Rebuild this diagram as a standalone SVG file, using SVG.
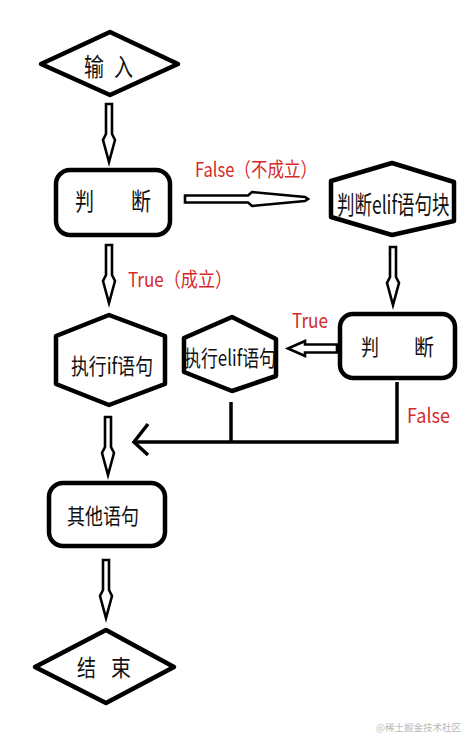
<svg xmlns="http://www.w3.org/2000/svg" width="467" height="739" viewBox="0 0 467 739">
<style>
.shape{fill:#fff;stroke:#000;stroke-width:4.5;stroke-linejoin:round}
.t{font-family:"Noto Sans CJK SC","Noto Sans",sans-serif;fill:#111}
.r{font-family:"Noto Sans CJK SC","Noto Sans",sans-serif;fill:#d42a2a;font-size:20px}
.arr{fill:#fff;stroke:#000;stroke-width:2.6;stroke-linejoin:miter}
.ln{fill:none;stroke:#000;stroke-width:3.5;stroke-linecap:butt;stroke-linejoin:miter}
</style>
<defs>
<path id="va" d="M-3,0 L3,0 L3,30 L6,36 L0,58 L-6,36 L-3,30 Z"/>
</defs>
<rect width="467" height="739" fill="#fff"/>

<g id="connectors">
<use href="#va" class="arr" transform="translate(109,104)"/>
<use href="#va" class="arr" transform="translate(109,245)"/>
<use href="#va" class="arr" transform="translate(108,417)"/>
<use href="#va" class="arr" transform="translate(106,560)"/>
<use href="#va" class="arr" transform="translate(393,247)"/>
<path class="arr" d="M185,195.5 L248,195.5 L252,192 L305,197 L308,199 L305,201 L252,206 L248,202.5 L185,202.5 Z"/>
<path class="arr" stroke-width="3" d="M337,344.5 L305,344.5 L305,341 L288,348.5 L305,356 L305,352.5 L337,352.5 Z"/>
<path class="ln" d="M397,382 L397,442 L134,442"/>
<path class="ln" d="M231,402 L231,442"/>
<path class="ln" d="M148,424 L134,442 L148,455"/>
</g>

<g id="label-false1"><text class="r" x="195" y="177" textLength="122" lengthAdjust="spacingAndGlyphs">False（不成立）</text></g>
<g id="label-true1"><text class="r" x="128" y="287" textLength="104" lengthAdjust="spacingAndGlyphs">True（成立）</text></g>
<g id="label-true2"><text class="r" x="292" y="328" textLength="36" lengthAdjust="spacingAndGlyphs">True</text></g>
<g id="label-false2"><text class="r" x="407" y="423" textLength="43" lengthAdjust="spacingAndGlyphs">False</text></g>

<g id="input">
<polygon class="shape" points="110,32 178,64 110,95 41,64"/>
<text class="t" font-size="25" y="76"><tspan x="84" textLength="20" lengthAdjust="spacingAndGlyphs">输</tspan><tspan x="114" textLength="19" lengthAdjust="spacingAndGlyphs">入</tspan></text>
</g>

<g id="judge1">
<rect class="shape" x="56" y="170" width="114" height="65" rx="14"/>
<text class="t" font-size="24" y="210"><tspan x="75" textLength="19" lengthAdjust="spacingAndGlyphs">判</tspan><tspan x="131" textLength="20" lengthAdjust="spacingAndGlyphs">断</tspan></text>
</g>

<g id="elif-block">
<polygon class="shape" points="392,163 454,182 454,221 392,235 331,217 331,181"/>
<text class="t" font-size="17.5" x="337" y="0" transform="translate(0,214) scale(1,1.4)">判断elif语句块</text>
</g>

<g id="exec-if">
<polygon class="shape" points="109,315 165,336 165,384 109,405 56,384 56,336"/>
<text class="t" font-size="22" x="71" y="374" textLength="82" lengthAdjust="spacingAndGlyphs">执行if语句</text>
</g>

<g id="judge2">
<rect class="shape" x="340" y="314" width="115" height="64" rx="13"/>
<text class="t" font-size="22" y="355"><tspan x="361" textLength="18" lengthAdjust="spacingAndGlyphs">判</tspan><tspan x="414" textLength="20" lengthAdjust="spacingAndGlyphs">断</tspan></text>
</g>

<g id="exec-elif">
<polygon class="shape" points="232,317 276,339 276,376 232,391 184,372 184,338"/>
<text class="t" font-size="22" x="184" y="366" textLength="92" lengthAdjust="spacingAndGlyphs">执行elif语句</text>
</g>

<g id="other">
<rect class="shape" x="49" y="483" width="116" height="63" rx="14"/>
<text class="t" font-size="22" x="67" y="524" textLength="72" lengthAdjust="spacingAndGlyphs">其他语句</text>
</g>

<g id="end">
<polygon class="shape" points="106,630 174,667 106,703 35,667"/>
<text class="t" font-size="23" y="676"><tspan x="77" textLength="19" lengthAdjust="spacingAndGlyphs">结</tspan><tspan x="111" textLength="20" lengthAdjust="spacingAndGlyphs">束</tspan></text>
</g>

<g id="watermark"><text x="376" y="731" font-family="Noto Sans CJK SC, sans-serif" font-size="9.5" fill="#b8b8b8">@稀土掘金技术社区</text></g>
</svg>
